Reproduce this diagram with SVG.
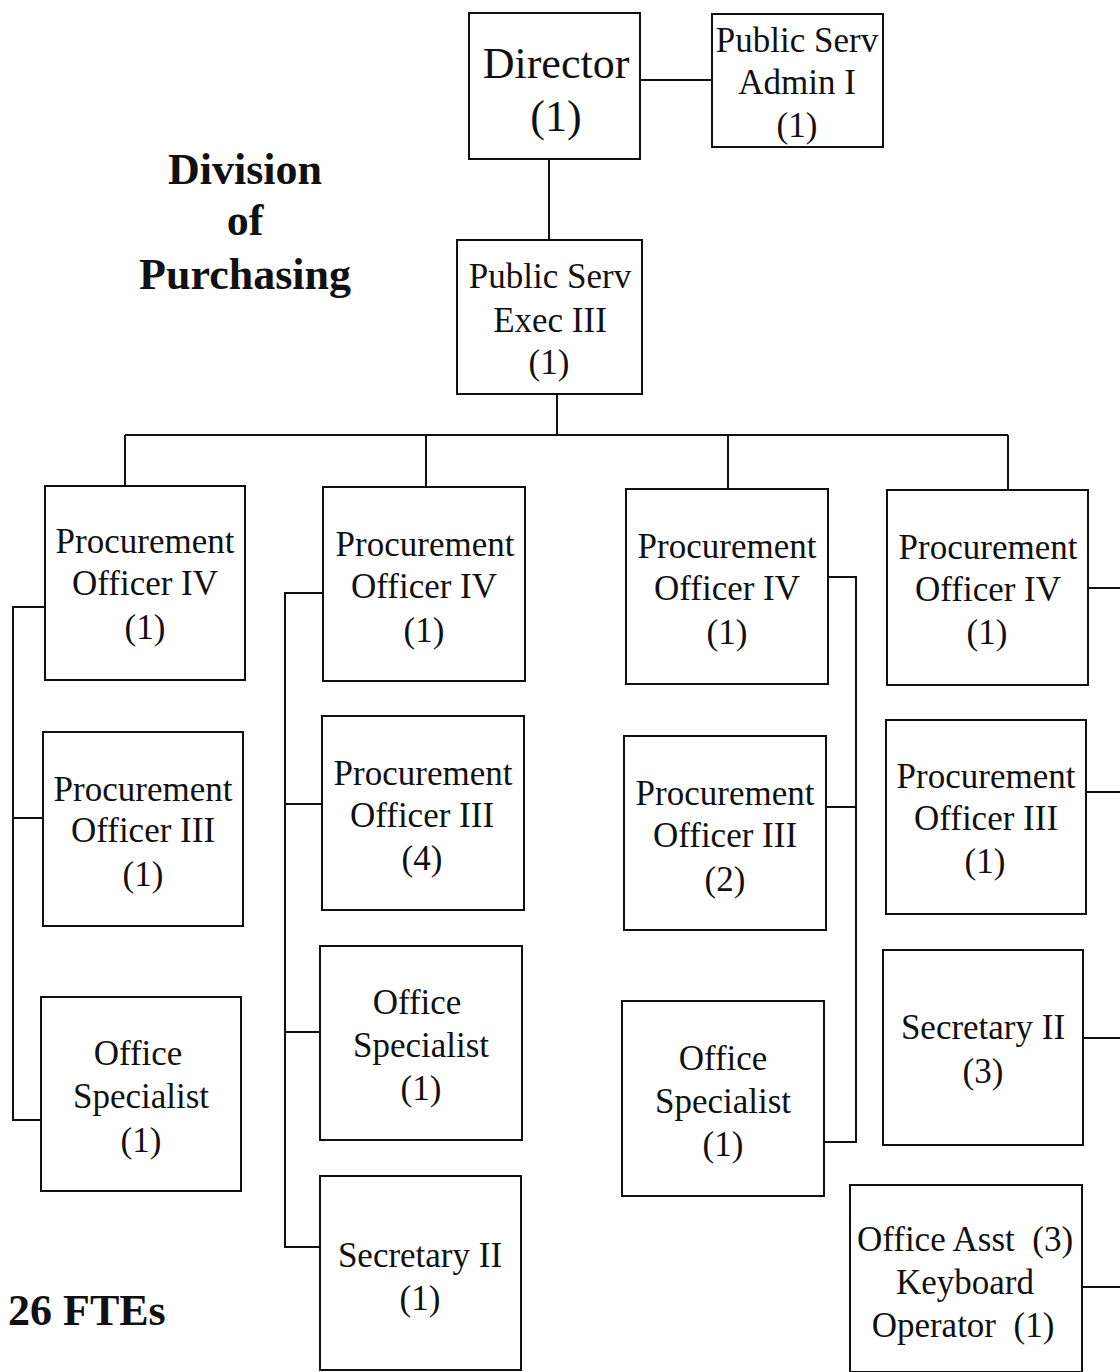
<svg xmlns="http://www.w3.org/2000/svg" width="1120" height="1372" viewBox="0 0 1120 1372">
<style>
.b{fill:#fff;stroke:#111;stroke-width:2}
.t{font-family:"Liberation Serif","Times New Roman",serif;font-size:35px;fill:#111;text-anchor:middle;white-space:pre}
.h{font-family:"Liberation Serif","Times New Roman",serif;font-size:44px;font-weight:bold;fill:#111}
.c{fill:none;stroke:#111;stroke-width:2}
</style>
<rect width="1120" height="1372" fill="#fff"/>
<g id="connectors">
<path class="c" d="M640 80H712M549 159V240M557 394V435M125 435H1008M125 435V486M426 435V487M728 435V489M1008 435V490"/>
<path class="c" d="M45 607H13V1120H41M13 818H43"/>
<path class="c" d="M323 593H285V1247H320M285 804H322M285 1032H320"/>
<path class="c" d="M828 577H856V1142H824M826 807H856"/>
<path class="c" d="M1088 588H1120M1086 792H1120M1083 1038H1120M1082 1287H1120"/>
</g>
<g id="title"><text class="h" x="245" y="184" text-anchor="middle">Division</text><text class="h" x="245" y="235" text-anchor="middle">of</text><text class="h" x="245" y="289" text-anchor="middle">Purchasing</text></g>
<g id="ftes"><text class="h" x="8" y="1325">26 FTEs</text></g>
<g id="director"><rect class="b" x="469" y="13" width="171" height="146"/><text class="t" x="556" y="78" style="font-size:44px">Director</text><text class="t" x="556" y="131" style="font-size:44px">(1)</text></g>
<g id="psa1"><rect class="b" x="712" y="14" width="171" height="133"/><text class="t" x="797" y="52">Public Serv</text><text class="t" x="797" y="94">Admin I</text><text class="t" x="797" y="137">(1)</text></g>
<g id="pse3"><rect class="b" x="457" y="240" width="185" height="154"/><text class="t" x="550" y="288">Public Serv</text><text class="t" x="550" y="332">Exec III</text><text class="t" x="549" y="374">(1)</text></g>
<g id="c1po4"><rect class="b" x="45" y="486" width="200" height="194"/><text class="t" x="145" y="553">Procurement</text><text class="t" x="145" y="595">Officer IV</text><text class="t" x="145" y="639">(1)</text></g>
<g id="c1po3"><rect class="b" x="43" y="732" width="200" height="194"/><text class="t" x="143" y="801">Procurement</text><text class="t" x="143" y="842">Officer III</text><text class="t" x="143" y="886">(1)</text></g>
<g id="c1os"><rect class="b" x="41" y="997" width="200" height="194"/><text class="t" x="138" y="1065">Office</text><text class="t" x="141" y="1108">Specialist</text><text class="t" x="141" y="1152">(1)</text></g>
<g id="c2po4"><rect class="b" x="323" y="487" width="202" height="194"/><text class="t" x="425" y="556">Procurement</text><text class="t" x="424" y="598">Officer IV</text><text class="t" x="424" y="642">(1)</text></g>
<g id="c2po3"><rect class="b" x="322" y="716" width="202" height="194"/><text class="t" x="423" y="785">Procurement</text><text class="t" x="422" y="827">Officer III</text><text class="t" x="422" y="870">(4)</text></g>
<g id="c2os"><rect class="b" x="320" y="946" width="202" height="194"/><text class="t" x="417" y="1014">Office</text><text class="t" x="421" y="1057">Specialist</text><text class="t" x="421" y="1100">(1)</text></g>
<g id="c2sec"><rect class="b" x="320" y="1176" width="201" height="194"/><text class="t" x="420" y="1267">Secretary II</text><text class="t" x="420" y="1310">(1)</text></g>
<g id="c3po4"><rect class="b" x="626" y="489" width="202" height="195"/><text class="t" x="727" y="558">Procurement</text><text class="t" x="727" y="600">Officer IV</text><text class="t" x="727" y="644">(1)</text></g>
<g id="c3po3"><rect class="b" x="624" y="736" width="202" height="194"/><text class="t" x="725" y="805">Procurement</text><text class="t" x="725" y="847">Officer III</text><text class="t" x="725" y="891">(2)</text></g>
<g id="c3os"><rect class="b" x="622" y="1001" width="202" height="195"/><text class="t" x="723" y="1070">Office</text><text class="t" x="723" y="1113">Specialist</text><text class="t" x="723" y="1156">(1)</text></g>
<g id="c4po4"><rect class="b" x="887" y="490" width="201" height="195"/><text class="t" x="988" y="559">Procurement</text><text class="t" x="988" y="601">Officer IV</text><text class="t" x="987" y="644">(1)</text></g>
<g id="c4po3"><rect class="b" x="886" y="720" width="200" height="194"/><text class="t" x="986" y="788">Procurement</text><text class="t" x="986" y="830">Officer III</text><text class="t" x="985" y="873">(1)</text></g>
<g id="c4sec"><rect class="b" x="883" y="950" width="200" height="195"/><text class="t" x="983" y="1039">Secretary II</text><text class="t" x="983" y="1083">(3)</text></g>
<g id="c4oa"><rect class="b" x="850" y="1185" width="232" height="187"/><text class="t" x="965" y="1251">Office Asst  (3)</text><text class="t" x="965" y="1294">Keyboard</text><text class="t" x="963" y="1337">Operator  (1)</text></g>
</svg>
